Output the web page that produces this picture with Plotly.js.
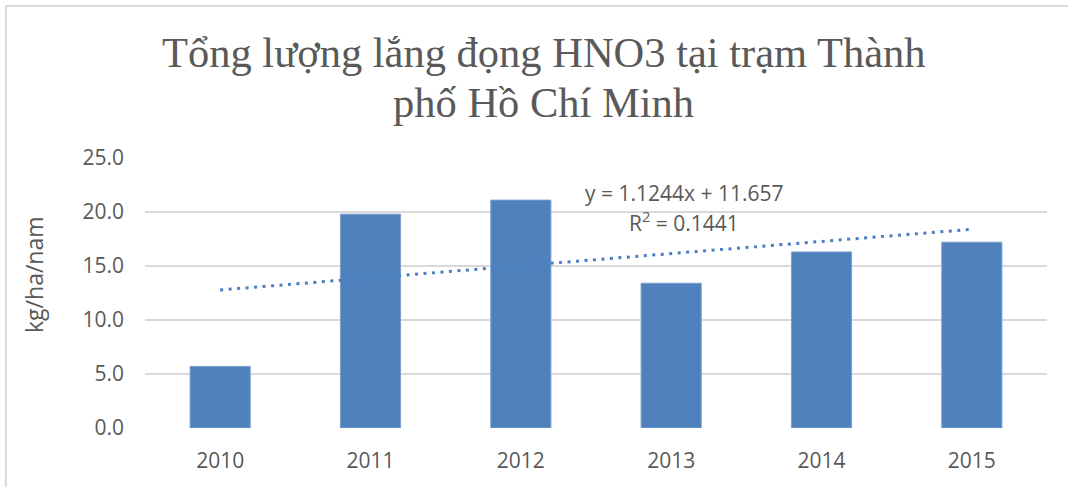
<!DOCTYPE html>
<html>
<head>
<meta charset="utf-8">
<script src="https://cdn.plot.ly/plotly-3.0.1.min.js"></script>
<style>html,body{margin:0;padding:0;background:#fff;}#chart{width:1068px;height:487px;}</style>
</head>
<body>
<div id="chart"></div>
<script>
const years = ['2010', '2011', '2012', '2013', '2014', '2015'];
const deposition = [5.7, 19.8, 21.1, 13.4, 16.3, 17.2];
const trendValues = [12.78, 13.91, 15.03, 16.15, 17.28, 18.40];
const yTicks = [0, 5, 10, 15, 20, 25];
const yTickLabels = ['0.0', '5.0', '10.0', '15.0', '20.0', '25.0'];
const titleLine1 = 'Tổng lượng lắng đọng HNO3 tại trạm Thành';
const titleLine2 = 'phố Hồ Chí Minh';
const yTitle = 'kg/ha/nam';
const eqText = 'y = 1.1244x + 11.657';
const r2Text = 'R<sup>2</sup> = 0.1441';

const txt = '#595959';
const sans = '"Open Sans", "Liberation Sans", sans-serif';
const serif = '"Liberation Serif", "Times New Roman", serif';

const traces = [
  {
    type: 'bar', x: years, y: deposition, width: 0.4,
    marker: {color: '#4F81BD', line: {color: '#7A9FD0', width: 1}},
    hoverinfo: 'x+y', showlegend: false
  },
  {
    type: 'scatter', mode: 'lines', x: years, y: trendValues,
    line: {color: '#4A7EC2', width: 3, dash: '3px,5.5px'},
    hoverinfo: 'skip', showlegend: false
  }
];

const layout = {
  width: 1068, height: 487,
  margin: {l: 145, r: 21, t: 158, b: 59},
  paper_bgcolor: '#fff', plot_bgcolor: '#fff',
  xaxis: {
    type: 'category', showgrid: false, zeroline: false, showline: false,
    ticks: '', tickfont: {family: sans, size: 21, color: txt},
    ticklabelstandoff: 18, fixedrange: true
  },
  yaxis: {
    range: [0, 25], tickvals: yTicks, ticktext: yTickLabels,
    showgrid: true, gridcolor: '#D9D9D9', gridwidth: 1.5,
    zeroline: false, showline: false, ticks: '',
    tickfont: {family: sans, size: 21, color: txt},
    ticklabelstandoff: 20, fixedrange: true
  },
  annotations: [
    {text: titleLine1, xref: 'paper', yref: 'paper', x: 0.442, y: 1.389, xanchor: 'center', yanchor: 'middle',
     showarrow: false, font: {family: serif, size: 42.5, color: txt}},
    {text: titleLine2, xref: 'paper', yref: 'paper', x: 0.442, y: 1.204, xanchor: 'center', yanchor: 'middle',
     showarrow: false, font: {family: serif, size: 42.5, color: txt}},
    {text: yTitle, xref: 'paper', yref: 'paper', x: -0.123, y: 0.567, xanchor: 'center', yanchor: 'middle',
     textangle: -90, showarrow: false, font: {family: sans, size: 23, color: txt}},
    {text: eqText, xref: 'paper', yref: 'paper', x: 0.598, y: 0.87, xanchor: 'center', yanchor: 'middle',
     showarrow: false, font: {family: sans, size: 21, color: txt}},
    {text: r2Text, xref: 'paper', yref: 'paper', x: 0.598, y: 0.763, xanchor: 'center', yanchor: 'middle',
     showarrow: false, font: {family: sans, size: 21, color: txt}}
  ],
  shapes: [
    {type: 'line', xref: 'paper', yref: 'paper', x0: -0.1543, x1: 1.03, y0: 1 + 152/270, y1: 1 + 152/270,
     line: {color: '#D9D9D9', width: 2}},
    {type: 'line', xref: 'paper', yref: 'paper', x0: -0.1543, x1: -0.1543, y0: 1 + 152/270, y1: -0.25,
     line: {color: '#D9D9D9', width: 2}}
  ]
};

Plotly.newPlot('chart', traces, layout, {displayModeBar: false, staticPlot: true});
</script>
</body>
</html>
